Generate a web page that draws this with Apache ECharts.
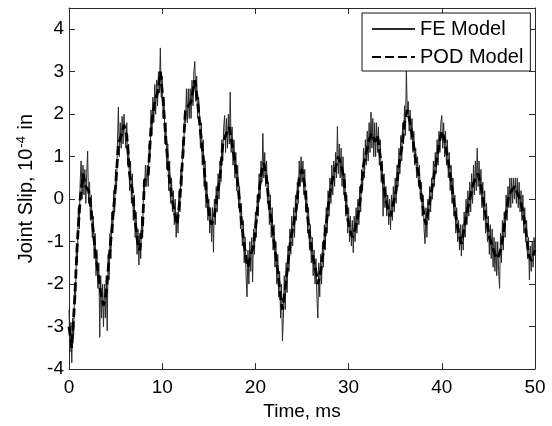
<!DOCTYPE html>
<html>
<head>
<meta charset="utf-8">
<script src="https://cdn.jsdelivr.net/npm/echarts@6/dist/echarts.min.js"></script>
<style>html,body{margin:0;padding:0;background:#fff;}#chart{width:552px;height:426px;}</style>
</head>
<body>
<div id="chart"></div>
<script>
// Time step of FE samples (ms)
const FE_DT = 0.1;
// FE Model joint slip (1e-4 in), sampled every 0.1 ms from 0 to 50 ms
const feModel = [
-2.6,-3.6,-2.9,-3.85,-2.8,-3.2,-2.0,-2.4,-1.1,-1.5,
-0.2,-0.7,0.4,0.9,0.0,0.8,0.1,0.7,-0.1,0.6,
1.13,-0.1,0.4,-0.5,0.1,-0.9,-0.4,-1.4,-0.8,-1.8,
-1.2,-2.1,-1.5,-3.25,-1.8,-2.8,-2.0,-3.0,-2.0,-2.8,
-1.8,-3.1,-1.3,-1.9,-0.8,-1.4,-0.3,-0.8,0.2,-0.3,
0.7,0.3,1.3,2.17,1.0,1.8,1.2,1.95,1.3,2.0,
2.0,1.2,1.8,0.8,1.3,0.2,0.9,-0.1,0.6,-0.5,
0.1,-0.9,-0.3,-1.3,-0.7,-1.55,-0.8,-1.4,-0.4,-0.9,
0.3,0.2,0.8,0.3,0.8,0.3,1.3,1.0,2.1,1.5,
2.4,1.8,2.7,2.0,2.8,2.2,3.0,2.5,3.56,2.4,
2.9,1.9,2.4,1.3,1.8,0.7,1.3,0.2,0.9,-0.1,
0.5,-0.3,0.2,-0.6,0.0,-0.9,-0.3,-0.8,0.2,-0.3,
0.7,0.3,1.4,1.0,2.1,1.8,2.6,1.8,2.6,1.9,
2.6,1.9,2.8,2.2,3.0,3.24,2.3,2.9,1.9,2.4,
2.1,1.2,1.8,0.8,1.4,0.3,0.9,-0.2,0.4,-0.5,
0.0,-0.8,-0.2,-1.0,-0.2,-1.25,0.0,-0.6,0.3,-0.3,
0.6,0.0,0.9,0.4,1.4,0.9,1.7,1.97,1.1,1.9,
1.2,2.0,1.3,2.52,1.1,1.7,0.8,1.4,0.5,1.1,
0.2,0.8,-0.2,0.3,-0.7,-0.1,-1.1,-0.5,-1.5,-0.9,
-1.8,-2.3,-1.2,-2.0,-1.0,-1.7,-0.9,-1.95,-0.7,-1.3,
-0.3,-0.9,0.1,-0.4,0.6,0.0,0.9,0.4,1.55,0.5,
1.1,0.3,0.9,-0.1,0.4,-0.6,0.1,-0.9,-0.2,-1.2,
-0.6,-1.6,-1.0,-2.0,-1.3,-2.3,-1.7,-2.8,-2.0,-3.34,
-2.8,-1.8,-2.6,-1.5,-2.2,-1.1,-1.7,-0.7,-1.3,-0.4,
-1.1,-0.2,-0.9,0.1,-0.5,0.4,-0.1,0.9,0.3,1.0,
0.4,0.9,0.1,0.7,-0.3,0.2,-0.8,-0.2,-1.2,-0.6,
-1.5,-0.9,-1.8,-1.2,-2.0,-1.4,-2.3,-2.8,-1.5,-2.3,
-1.3,-2.0,-1.0,-1.6,-0.6,-1.2,-0.2,-0.8,0.2,-0.4,
0.5,-0.1,0.8,0.1,0.9,0.3,1.1,0.5,1.71,0.6,
1.3,0.5,1.2,0.3,1.0,0.1,0.6,-0.4,0.1,-0.8,
-0.2,-1.0,-0.4,-1.1,-0.5,-1.26,-0.4,-1.0,-0.2,-0.8,
0.0,-0.6,0.3,-0.3,0.7,0.2,1.2,0.5,1.4,0.8,
1.6,0.9,1.8,1.1,2.05,1.2,1.9,1.0,1.8,1.0,
1.8,1.1,1.7,0.8,1.4,0.4,0.9,-0.4,0.6,-0.2,
0.3,-0.4,0.1,-0.6,0.0,-0.72,0.1,-0.5,0.3,-0.3,
0.5,-0.1,0.8,0.3,1.2,0.6,1.5,0.9,1.8,1.3,
2.2,1.5,3.05,2.0,2.3,1.6,2.1,1.4,1.9,1.1,
1.6,0.8,1.2,0.5,1.0,0.3,0.8,0.0,0.4,-0.4,
0.1,-0.7,-1.05,-0.2,-0.9,0.0,-0.5,0.3,-0.3,0.5,
0.0,0.9,0.3,1.1,0.6,1.4,0.8,1.6,1.1,1.8,
1.97,1.2,1.8,1.0,1.6,0.8,1.4,0.5,1.1,0.2,
0.8,-0.1,0.5,-0.4,0.1,-0.8,-0.2,-1.0,-0.5,-1.2,
-0.6,-1.34,-0.6,-1.2,-0.3,-0.9,0.0,-0.6,0.2,-0.4,
0.4,-0.3,0.6,-0.1,0.8,0.1,0.9,0.2,1.2,0.3,
0.9,0.1,0.7,-0.2,0.4,-0.5,0.2,-0.8,-0.1,-1.0,
-0.4,-1.3,-0.6,-1.4,-0.7,-1.6,-0.9,-1.7,-1.0,-1.8,
-1.0,-1.7,-2.1,-0.8,-1.5,-0.5,-1.2,-0.3,-0.9,0.1,
-0.5,0.3,-0.2,0.5,-0.2,0.5,-0.1,0.5,0.0,0.5,
-0.1,0.5,-0.2,0.4,-0.3,0.2,-0.5,0.1,-0.8,-0.2,
-1.0,-0.5,-1.4,-0.9,-1.9,-1.1,-1.7,-1.0,-1.6,-0.9,-1.3
];

// POD Model (smooth) read at key times
const podTime = [0,0.3,0.6,0.9,1.2,1.5,1.8,2.1,2.4,2.8,3.1,3.4,3.7,4.0,4.3,4.6,5.0,5.3,5.6,5.9,6.2,6.5,6.8,7.1,7.4,7.6,7.9,8.1,8.5,8.8,9.2,9.5,9.8,10.1,10.4,10.7,11.0,11.3,11.6,11.9,12.2,12.5,12.8,13.1,13.5,13.8,14.1,14.4,14.7,15.0,15.3,15.6,15.9,16.2,16.5,16.8,17.2,17.5,17.8,18.1,18.4,18.7,19.0,19.2,19.5,19.8,20.1,20.4,20.7,20.9,21.2,21.5,21.8,22.1,22.4,22.7,22.9,23.2,23.5,23.8,24.1,24.4,24.7,25.0,25.3,25.6,25.9,26.2,26.5,26.7,27.0,27.3,27.6,27.9,28.2,28.5,28.9,29.2,29.5,29.8,30.1,30.4,30.7,31.0,31.3,31.6,31.9,32.2,32.5,32.8,33.1,33.4,33.7,34.0,34.3,34.5,34.8,35.1,35.4,35.7,36.0,36.3,36.6,36.9,37.2,37.5,37.8,38.1,38.3,38.6,38.9,39.2,39.5,39.8,40.0,40.3,40.6,40.9,41.2,41.5,41.8,42.1,42.4,42.7,43.0,43.3,43.6,43.9,44.2,44.5,44.8,45.1,45.4,45.7,46.0,46.3,46.6,46.9,47.2,47.5,47.8,48.1,48.4,48.7,49.0,49.3,49.6,50.0];
const podValue = [-3.0,-3.5,-2.4,-1.0,0.0,0.6,0.3,0.2,-0.3,-1.2,-1.7,-2.2,-2.5,-2.2,-1.4,-0.7,0.3,1.3,1.5,1.75,1.5,0.6,0.2,-0.5,-1.1,-1.2,-0.6,0.45,0.55,1.7,2.3,2.5,3.0,2.3,1.4,0.6,0.1,-0.3,-0.6,0.0,1.0,2.1,2.2,2.3,2.8,2.3,1.6,1.0,0.2,-0.3,-0.6,-0.4,0.1,0.5,1.3,1.5,1.7,1.3,0.9,0.4,-0.3,-0.9,-1.4,-1.6,-1.3,-1.1,-0.5,0.2,0.7,0.85,0.5,-0.2,-0.6,-1.2,-1.7,-2.3,-2.6,-2.1,-1.5,-0.9,-0.6,-0.2,0.5,0.7,0.3,-0.4,-1.0,-1.4,-1.7,-2.0,-1.7,-1.2,-0.6,0.0,0.4,0.65,1.0,0.8,0.5,-0.3,-0.7,-0.9,-0.7,-0.4,0.1,0.8,1.1,1.4,1.55,1.35,1.5,1.0,0.4,0.0,-0.3,-0.4,-0.1,0.2,0.8,1.2,1.8,2.1,1.8,1.4,0.9,0.6,0.1,-0.4,-0.6,-0.2,0.2,0.6,1.0,1.4,1.6,1.4,1.0,0.6,0.1,-0.4,-0.8,-1.05,-0.7,-0.3,0.0,0.3,0.5,0.6,0.3,-0.1,-0.5,-0.9,-1.1,-1.3,-1.4,-1.2,-0.8,-0.3,0.1,0.2,0.3,0.15,0.0,-0.3,-0.7,-1.3,-1.45,-1.2];

const seriesNames = ['FE Model', 'POD Model'];
const xTicks = [0, 10, 20, 30, 40, 50];
const yTicks = [-4, -3, -2, -1, 0, 1, 2, 3, 4];

const feData = feModel.map((v, i) => [Math.round(i * FE_DT * 10) / 10, v]);
const podData = podTime.map((t, i) => [t, podValue[i]]);

const FONT = 'Liberation Sans, Arial, sans-serif';
const AX = '#2b2b2b';

const chart = echarts.init(document.getElementById('chart'), null, {renderer: 'canvas'});

const baseX = {
  type: 'value', min: 0, max: 50, interval: 10,
  axisLine: {show: true, onZero: false, lineStyle: {color: AX, width: 1}},
  axisTick: {show: true, inside: true, length: 6, lineStyle: {color: AX}},
  splitLine: {show: false}
};
const baseY = {
  type: 'value', min: -4, max: 4.5, interval: 1,
  axisLine: {show: true, onZero: false, lineStyle: {color: AX, width: 1}},
  axisTick: {show: true, inside: true, length: 6, lineStyle: {color: AX}},
  splitLine: {show: false}
};

chart.setOption({
  animation: false,
  backgroundColor: '#fff',
  grid: {left: 69, right: 17, top: 8, bottom: 51, containLabel: false},
  legend: {
    data: seriesNames,
    orient: 'vertical',
    left: 362, top: 13,
    backgroundColor: '#fff',
    borderColor: '#111', borderWidth: 1, borderRadius: 0,
    padding: [6, 7, 4, 9],
    itemWidth: 43, itemHeight: 14, itemGap: 8,
    itemStyle: {opacity: 0, borderWidth: 0},
    textStyle: {fontFamily: FONT, fontSize: 20, color: '#000', lineHeight: 20},
    z: 10
  },
  xAxis: [
    Object.assign({}, baseX, {
      position: 'bottom',
      name: 'Time, ms', nameLocation: 'middle', nameGap: 27,
      nameTextStyle: {fontFamily: FONT, fontSize: 19, color: '#000'},
      axisLabel: {show: true, margin: 9, fontFamily: FONT, fontSize: 19, color: '#000',
        formatter: v => xTicks.includes(v) ? String(v) : ''}
    }),
    Object.assign({}, baseX, {position: 'top', axisLabel: {show: false}})
  ],
  yAxis: [
    Object.assign({}, baseY, {
      position: 'left',
      name: 'Joint Slip, 10{sup|-4} in', nameLocation: 'middle', nameGap: 28, nameRotate: 90,
      nameTextStyle: {fontFamily: FONT, fontSize: 20, color: '#000',
        rich: {sup: {fontFamily: FONT, fontSize: 13, color: '#000', verticalAlign: 'top', padding: [0, 1, 10, 1]}}},
      axisLabel: {show: true, margin: 5, fontFamily: FONT, fontSize: 19, color: '#000',
        formatter: v => yTicks.includes(v) ? String(v) : ''}
    }),
    Object.assign({}, baseY, {position: 'right', axisLabel: {show: false}})
  ],
  series: [
    {
      name: seriesNames[0], type: 'line', xAxisIndex: 0, yAxisIndex: 0,
      data: feData, showSymbol: false, symbol: 'none',
      lineStyle: {color: '#2a2a2a', width: 1}, itemStyle: {color: '#2a2a2a'},
      z: 2
    },
    {
      name: seriesNames[1], type: 'line', xAxisIndex: 0, yAxisIndex: 0,
      data: podData, showSymbol: false, symbol: 'none',
      lineStyle: {color: '#000', width: 2.8, type: [9, 4]}, itemStyle: {color: '#000'},
      z: 3
    }
  ]
});
</script>
</body>
</html>
